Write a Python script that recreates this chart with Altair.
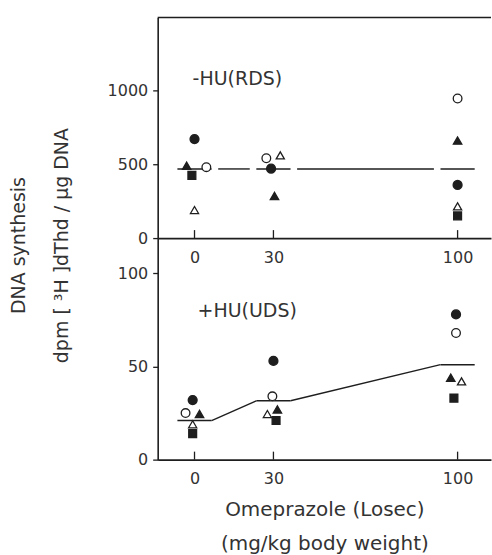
import altair as alt
import pandas as pd

# Omeprazole doses (mg/kg body weight) and marker legend for individual animals
doses = [0, 30, 100]
marker_kinds = ["filled circle", "open circle", "filled triangle", "open triangle", "filled square"]

# -HU : replicative DNA synthesis (dpm [3H]dThd / µg DNA)
rds_dose = [0, 0, 0, 0, 0, 30, 30, 30, 30, 100, 100, 100, 100, 100]
rds_kind = ["filled circle", "filled triangle", "filled square", "open circle", "open triangle",
            "open circle", "open triangle", "filled circle", "filled triangle",
            "open circle", "filled triangle", "filled circle", "open triangle", "filled square"]
rds_value = [670, 490, 425, 480, 190, 540, 560, 470, 285, 945, 660, 360, 215, 150]
rds_nudge = [0, -3, -1, 4.5, 0, -2.7, 2.6, -0.9, 0.4, 0, 0, 0, 0, 0]
rds_mean = [468, 468, 468]

# +HU : unscheduled DNA synthesis
uds_dose = [0] * 5 + [30] * 5 + [100] * 5
uds_kind = ["filled circle", "open circle", "filled triangle", "open triangle", "filled square"] * 3
uds_value = [32, 25, 24.5, 19, 14, 53, 34, 27, 24.5, 21, 78, 68, 44, 42, 33]
uds_nudge = [-0.7, -3.4, 1.9, -0.7, -0.7, 0, -0.4, 1.5, -2.3, 1, -0.6, -0.6, -2.6, 1.5, -1.4]
uds_mean = [21, 31.6, 51]

INK = "#1e1e1e"
TXT = "#333333"
FONT = "DejaVu Sans"
HALF_BAR = 6.5
W = 334
XSCALE = alt.Scale(domain=[-14, 112.7], nice=False, zero=False)


def points_frame(dose, kind, value, nudge):
    return pd.DataFrame({"dose": dose, "kind": kind, "value": value, "nudge": nudge})


def mean_frames(means, gap):
    bars = pd.DataFrame({"lo": [d - HALF_BAR for d in doses],
                         "hi": [d + HALF_BAR for d in doses],
                         "mean": means})
    links = pd.DataFrame({
        "x1": [doses[i] + HALF_BAR + gap for i in range(len(doses) - 1)],
        "x2": [doses[i + 1] - HALF_BAR - gap for i in range(len(doses) - 1)],
        "y1": [means[i] for i in range(len(doses) - 1)],
        "y2": [means[i + 1] for i in range(len(doses) - 1)],
    })
    return bars, links


def panel(pts, means, gap, height, ydom, yvals, yaxis_title, title_x, title_y,
          label, label_pos, x_title, top_border):
    yscale = alt.Scale(domain=ydom, nice=False, zero=True)
    yaxis = alt.Axis(values=yvals, format="d", title=yaxis_title, titleAngle=270, titleX=title_x,
                     titleY=title_y, titleAlign="center", titleBaseline="middle",
                     titleFontSize=19, titleFontWeight="normal", titleFont=FONT, titleColor=TXT,
                     tickSize=5, labelPadding=5, domain=True, domainColor=INK, domainWidth=1.6,
                     ticks=True, tickColor=INK, tickWidth=1.3, grid=False,
                     labelFont=FONT, labelFontSize=16, labelColor=TXT)
    xaxis = alt.Axis(values=doses, format="d", ticks=False, labelPadding=11, title=x_title,
                     titleFontSize=20, titleLineHeight=34, titlePadding=13,
                     titleFontWeight="normal", titleFont=FONT, titleColor=TXT,
                     domain=True, domainColor=INK, domainWidth=1.6, grid=False,
                     labelFont=FONT, labelFontSize=16, labelColor=TXT)
    bars, links = mean_frames(means, gap)

    base_pts = alt.Chart(pts).transform_calculate(xpos="datum.dose + datum.nudge")
    pts_layer = base_pts.mark_point(filled=True, stroke=INK, strokeWidth=1.3, opacity=1).encode(
        x=alt.X("xpos:Q", scale=XSCALE, axis=xaxis),
        y=alt.Y("value:Q", scale=yscale, axis=yaxis),
        shape=alt.Shape("kind:N", scale=alt.Scale(domain=marker_kinds,
                        range=["circle", "circle", "triangle-up", "triangle-up", "square"]), legend=None),
        fill=alt.Fill("kind:N", scale=alt.Scale(domain=marker_kinds,
                      range=[INK, "white", INK, "white", INK]), legend=None),
        size=alt.Size("kind:N", scale=alt.Scale(domain=marker_kinds,
                      range=[80, 62, 75, 50, 70]), legend=None),
    )

    bar_layer = alt.Chart(bars).mark_rule(color=INK, strokeWidth=1.6).encode(
        x=alt.X("lo:Q", scale=XSCALE, axis=xaxis), x2="hi:Q",
        y=alt.Y("mean:Q", scale=yscale, axis=yaxis),
    )
    link_layer = alt.Chart(links).mark_rule(color=INK, strokeWidth=1.4).encode(
        x=alt.X("x1:Q", scale=XSCALE, axis=xaxis), x2="x2:Q",
        y=alt.Y("y1:Q", scale=yscale, axis=yaxis), y2="y2:Q",
    )
    # inward tick marks at the three doses
    tick_layer = alt.Chart(pd.DataFrame({"dose": doses})).mark_rule(color=INK, strokeWidth=1.3).encode(
        x=alt.X("dose:Q", scale=XSCALE, axis=xaxis),
        y=alt.value(height), y2=alt.value(height - 8),
    )
    text_layer = alt.Chart(pd.DataFrame({"t": [label]})).mark_text(
        align="left", baseline="middle", fontSize=19, font=FONT, color=TXT
    ).encode(text="t:N", x=alt.value(label_pos[0]), y=alt.value(label_pos[1]))

    layers = [link_layer, bar_layer, tick_layer, pts_layer, text_layer]
    if top_border:
        # upper frame edge of the top panel
        frame = alt.Chart(pd.DataFrame({"edge": [0]})).mark_rule(color=INK, strokeWidth=1.6).encode(
            x=alt.value(0), x2=alt.value(W), y=alt.value(0),
        )
        layers.append(frame)
    return alt.layer(*layers).properties(width=W, height=height)


top = panel(points_frame(rds_dose, rds_kind, rds_value, rds_nudge), rds_mean, 2.5, 221,
            [0, 1493], [0, 500, 1000], "DNA synthesis", -139, 228,
            "-HU(RDS)", (35, 62), None, True)
bottom = panel(points_frame(uds_dose, uds_kind, uds_value, uds_nudge), uds_mean, 0, 222,
               [0, 119], [0, 50, 100], "dpm [ \u00b3H ]dThd / \u00b5g DNA", -96, 7,
               "+HU(UDS)", (40, 73), ["Omeprazole (Losec)", "(mg/kg body weight)"], False)

chart = alt.vconcat(top, bottom, spacing=0, bounds="flush").properties(
    padding={"left": 10, "top": 16, "right": 0, "bottom": 2}, background="white"
).configure_view(stroke=None).configure_axis(grid=False)

chart.save("out.html", embed_options={"renderer": "svg", "actions": False})
